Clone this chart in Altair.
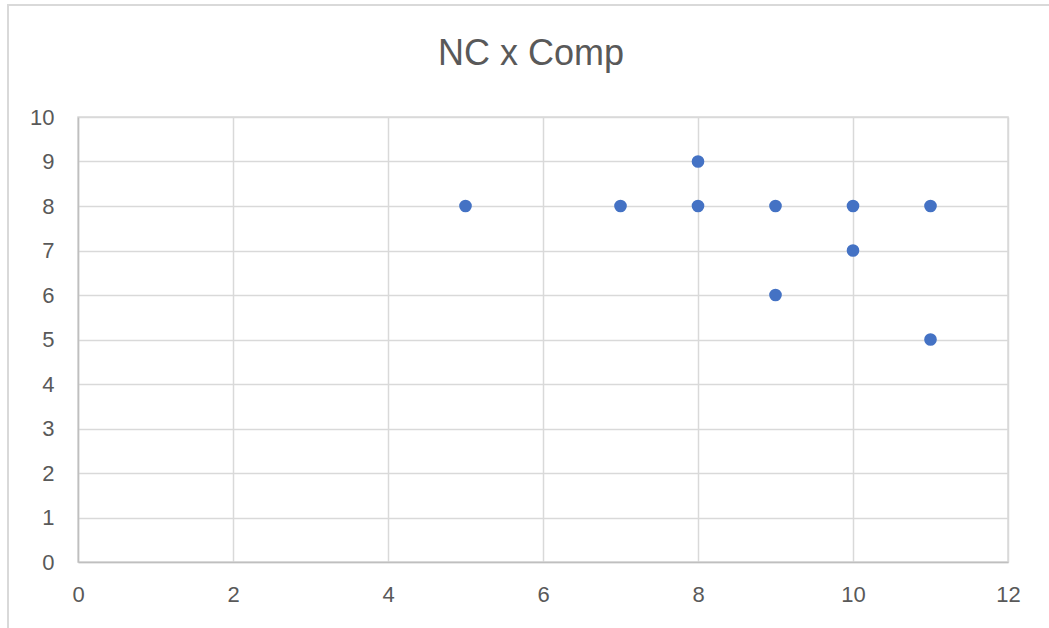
import altair as alt
import pandas as pd

# NC vs Comp observations
nc = [5, 7, 8, 8, 9, 10, 11, 10, 9, 11]
comp = [8, 8, 9, 8, 8, 8, 8, 7, 6, 5]

x_ticks = [0, 2, 4, 6, 8, 10, 12]
y_ticks = [0, 1, 2, 3, 4, 5, 6, 7, 8, 9, 10]

chart_title = "NC x Comp"

df = pd.DataFrame({"NC": nc, "Comp": comp})

FONT = "Liberation Sans"
TEXT = "#595959"
GRID = "#d9d9d9"
AXIS = "#bfbfbf"

one = pd.DataFrame({"k": [0]})

# outer chart frame
frame = alt.Chart(one).mark_rect(
    fill=None, stroke=GRID, strokeWidth=2, clip=False
).encode(
    x=alt.value(-70), x2=alt.value(1000),
    y=alt.value(-112), y2=alt.value(540),
)

# chart title, centred over the whole chart area
title = alt.Chart(one).mark_text(
    text=chart_title, font=FONT, fontSize=36, color=TEXT,
    align="center", baseline="alphabetic",
).encode(x=alt.value(453), y=alt.value(-52))

points = alt.Chart(df).mark_circle(size=160, opacity=1, color="#4472C4").encode(
    x=alt.X("NC:Q", scale=alt.Scale(domain=[0, 12], nice=False),
            axis=alt.Axis(values=x_ticks, title=None, grid=True, ticks=False,
                          labelFlush=False, labelPadding=22,
                          domainColor=AXIS, domainWidth=1.5)),
    y=alt.Y("Comp:Q", scale=alt.Scale(domain=[0, 10], nice=False),
            axis=alt.Axis(values=y_ticks, title=None, grid=True, ticks=False,
                          labelFlush=False, labelPadding=24,
                          domainColor=AXIS, domainWidth=1.5)),
)

chart = alt.layer(frame, title, points).properties(
    width=930,
    height=445,
    padding={"left": 78, "top": 117, "right": 41, "bottom": 66},
    autosize=alt.AutoSizeParams(type="none"),
    background="white",
).configure_axis(
    labelFont=FONT, labelFontSize=22, labelColor=TEXT,
    gridColor=GRID, gridWidth=1.5,
).configure_view(
    stroke=GRID, strokeWidth=1.5,
)

chart.save("out.html", embed_options={"renderer": "svg", "actions": False})
